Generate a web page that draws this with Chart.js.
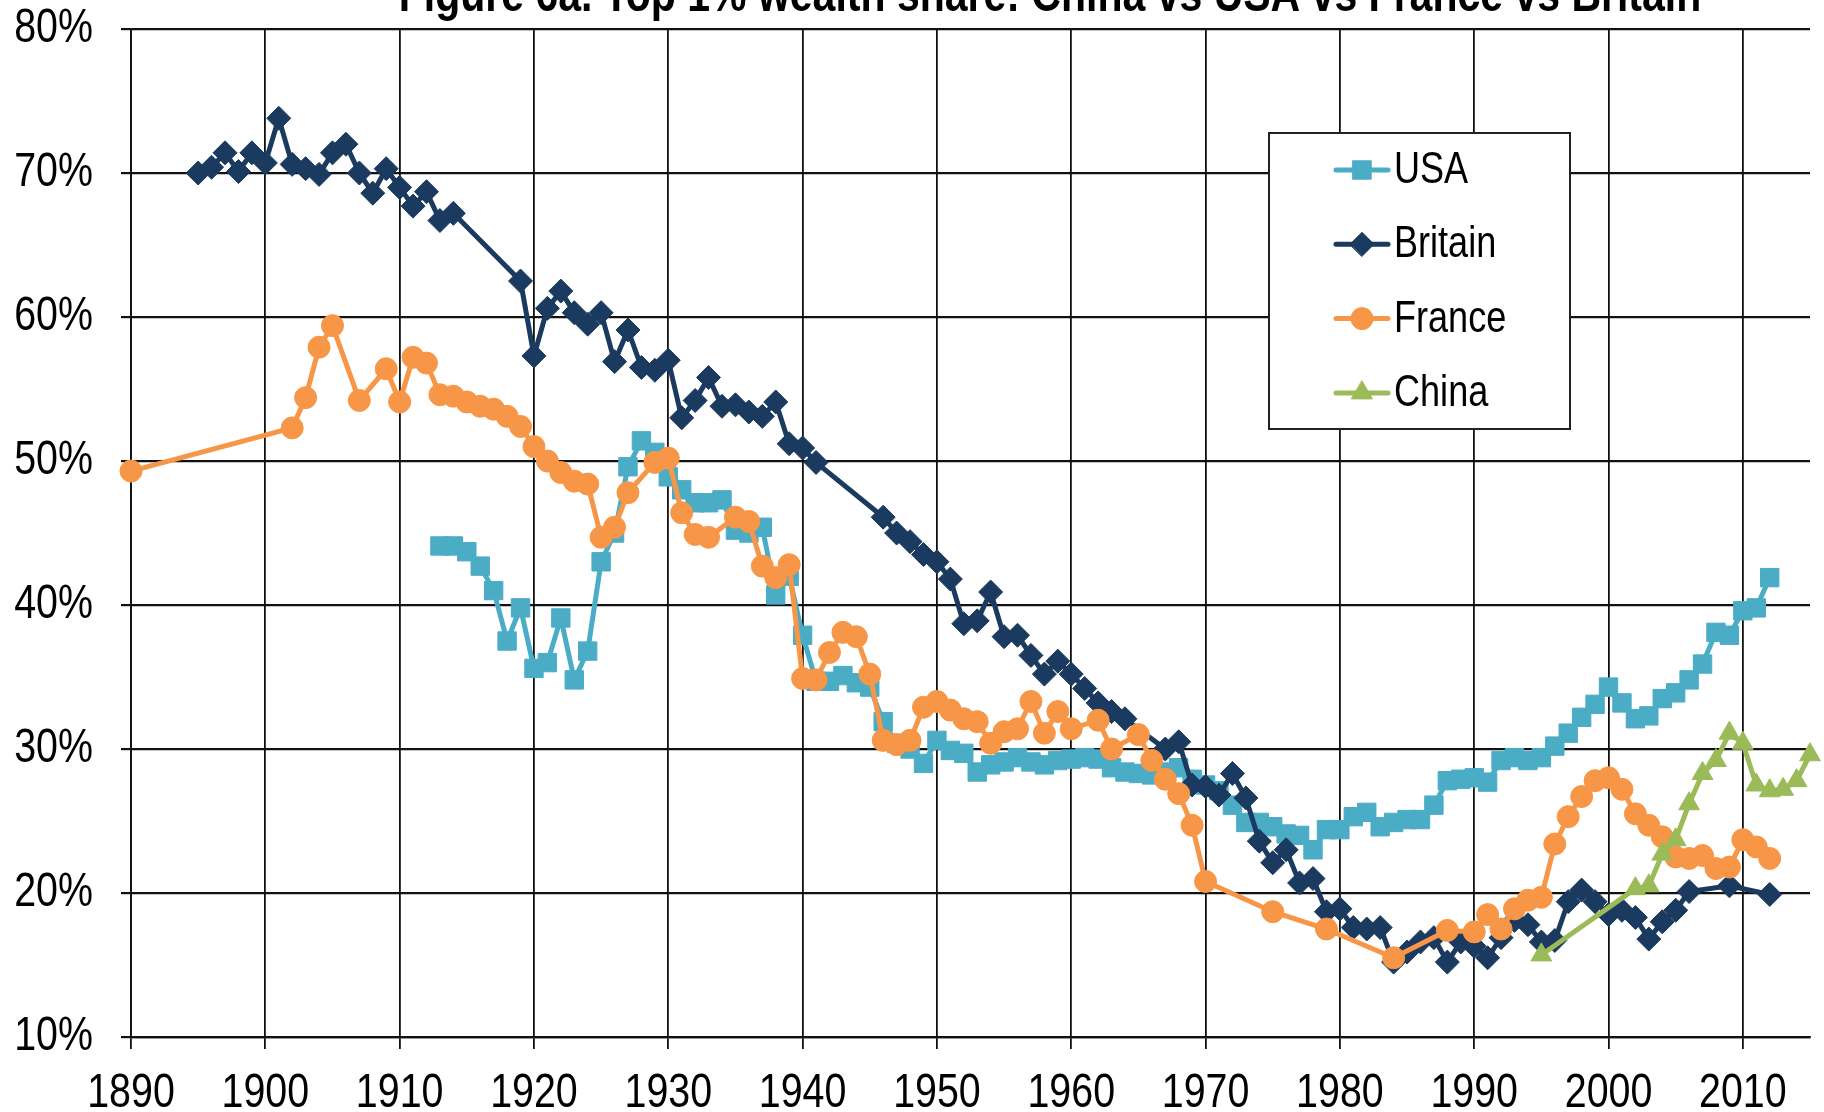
<!DOCTYPE html>
<html>
<head>
<meta charset="utf-8">
<title>Top 1% wealth share</title>
<script src="https://cdn.jsdelivr.net/npm/chart.js@4"></script>
<style>
  html, body { margin: 0; padding: 0; background: #fff; }
  canvas { display: block; }
</style>
</head>
<body>
<canvas id="chart" width="1824" height="1112"></canvas>
<script>
// data (share of total wealth, %)
const titleText = "Figure 6a. Top 1% wealth share: China vs USA vs France vs Britain";
const seriesNames = ["USA", "Britain", "France", "China"];
const yTicks = [10, 20, 30, 40, 50, 60, 70, 80];

const usaYears = [1913, 1914, 1915, 1916, 1917, 1918, 1919, 1920, 1921, 1922, 1923, 1924, 1925, 1926, 1927, 1928, 1929, 1930,
  1931, 1932, 1933, 1934, 1935, 1936, 1937, 1938, 1939, 1940, 1941, 1942, 1943, 1944, 1945, 1946, 1947, 1948, 1949, 1950,
  1951, 1952, 1953, 1954, 1955, 1956, 1957, 1958, 1959, 1960, 1961, 1962, 1963, 1964, 1965, 1966, 1967, 1968, 1969, 1970,
  1971, 1972, 1973, 1974, 1975, 1976, 1977, 1978, 1979, 1980, 1981, 1982, 1983, 1984, 1985, 1986, 1987, 1988, 1989, 1990,
  1991, 1992, 1993, 1994, 1995, 1996, 1997, 1998, 1999, 2000, 2001, 2002, 2003, 2004, 2005, 2006, 2007, 2008, 2009, 2010,
  2011, 2012];
const usaShare = [44.1, 44.1, 43.7, 42.7, 41.0, 37.5, 39.8, 35.6, 36.0, 39.1, 34.8, 36.8, 43.0, 45.0, 49.6, 51.4, 50.6, 48.9,
  48.0, 47.1, 47.1, 47.3, 45.2, 45.0, 45.4, 40.7, 42.0, 37.9, 34.7, 34.7, 35.1, 34.6, 34.3, 31.9, 30.4, 30.0, 29.0, 30.6,
  29.9, 29.7, 28.4, 28.9, 29.1, 29.4, 29.1, 28.9, 29.2, 29.3, 29.4, 29.3, 28.7, 28.4, 28.3, 28.2, 28.4, 28.7, 27.9, 27.5,
  27.1, 26.1, 24.9, 24.9, 24.6, 24.1, 24.0, 23.0, 24.4, 24.4, 25.3, 25.6, 24.6, 24.9, 25.1, 25.1, 26.1, 27.8, 27.9, 28.0,
  27.7, 29.2, 29.4, 29.2, 29.4, 30.2, 31.1, 32.2, 33.1, 34.3, 33.2, 32.1, 32.3, 33.5, 33.9, 34.8, 35.9, 38.1, 37.9, 39.6,
  39.8, 41.9];

const britainYears = [1895, 1896, 1897, 1898, 1899, 1900, 1901, 1902, 1903, 1904, 1905, 1906, 1907, 1908, 1909, 1910, 1911,
  1912, 1913, 1914, 1919, 1920, 1921, 1922, 1923, 1924, 1925, 1926, 1927, 1928, 1929, 1930, 1931, 1932, 1933, 1934, 1935,
  1936, 1937, 1938, 1939, 1940, 1941, 1946, 1947, 1948, 1949, 1950, 1951, 1952, 1953, 1954, 1955, 1956, 1957, 1958, 1959,
  1960, 1961, 1962, 1963, 1964, 1967, 1968, 1969, 1970, 1971, 1972, 1973, 1974, 1975, 1976, 1977, 1978, 1979, 1980, 1981,
  1982, 1983, 1984, 1985, 1986, 1987, 1988, 1989, 1990, 1991, 1992, 1993, 1994, 1995, 1996, 1997, 1998, 1999, 2000, 2001,
  2002, 2003, 2004, 2005, 2006, 2009, 2012];
const britainShare = [70.0, 70.4, 71.4, 70.1, 71.4, 70.7, 73.8, 70.6, 70.3, 69.9, 71.4, 72.0, 70.0, 68.6, 70.3, 69.0, 67.7,
  68.7, 66.7, 67.2, 62.5, 57.3, 60.6, 61.8, 60.3, 59.5, 60.3, 56.9, 59.1, 56.5, 56.3, 57.0, 53.0, 54.2, 55.8, 53.8, 53.9,
  53.4, 53.1, 54.1, 51.2, 50.9, 49.9, 46.1, 45.0, 44.4, 43.5, 43.0, 41.8, 38.7, 38.9, 40.9, 37.8, 37.9, 36.5, 35.2, 36.1,
  35.2, 34.2, 33.2, 32.6, 32.1, 30.0, 30.5, 27.5, 27.4, 26.8, 28.3, 26.6, 23.6, 22.1, 23.0, 20.7, 21.0, 18.7, 18.9, 17.6,
  17.5, 17.6, 15.2, 15.9, 16.6, 16.9, 15.2, 16.6, 16.3, 15.5, 16.9, 18.1, 17.8, 16.6, 16.7, 19.4, 20.2, 19.4, 18.5, 18.8,
  18.3, 16.8, 18.0, 18.8, 20.1, 20.5, 19.9];

const franceYears = [1890, 1902, 1903, 1904, 1905, 1907, 1909, 1910, 1911, 1912, 1913, 1914, 1915, 1916, 1917, 1918, 1919,
  1920, 1921, 1922, 1923, 1924, 1925, 1926, 1927, 1929, 1930, 1931, 1932, 1933, 1935, 1936, 1937, 1938, 1939, 1940, 1941,
  1942, 1943, 1944, 1945, 1946, 1947, 1948, 1949, 1950, 1951, 1952, 1953, 1954, 1955, 1956, 1957, 1958, 1959, 1960, 1962,
  1963, 1965, 1966, 1967, 1968, 1969, 1970, 1975, 1979, 1984, 1988, 1990, 1991, 1992, 1993, 1994, 1995, 1996, 1997, 1998,
  1999, 2000, 2001, 2002, 2003, 2004, 2005, 2006, 2007, 2008, 2009, 2010, 2011, 2012];
const franceShare = [49.3, 52.3, 54.4, 57.9, 59.4, 54.2, 56.4, 54.1, 57.2, 56.8, 54.6, 54.5, 54.1, 53.8, 53.6, 53.1, 52.4,
  51.0, 50.0, 49.2, 48.6, 48.4, 44.7, 45.4, 47.8, 49.9, 50.2, 46.4, 44.9, 44.7, 46.1, 45.8, 42.7, 41.9, 42.8, 34.9, 34.8,
  36.7, 38.1, 37.8, 35.2, 30.6, 30.3, 30.6, 32.9, 33.3, 32.7, 32.1, 31.9, 30.4, 31.2, 31.4, 33.3, 31.1, 32.6, 31.4, 32.0,
  30.0, 31.0, 29.2, 27.9, 26.9, 24.7, 20.8, 18.7, 17.5, 15.5, 17.4, 17.3, 18.5, 17.5, 18.9, 19.5, 19.7, 23.4, 25.3, 26.7,
  27.8, 28.0, 27.2, 25.5, 24.7, 23.9, 22.5, 22.4, 22.6, 21.7, 21.8, 23.7, 23.2, 22.4];

const chinaYears = [1995, 2002, 2003, 2004, 2005, 2006, 2007, 2008, 2009, 2010, 2011, 2012, 2013, 2014, 2015];
const chinaShare = [15.7, 20.3, 20.5, 22.7, 23.7, 26.2, 28.3, 29.2, 31.1, 30.4, 27.5, 27.1, 27.2, 27.8, 29.6];

function toPoints(years, values) {
  return years.map((yr, i) => ({ x: yr, y: values[i] }));
}

const FONT = '"Liberation Sans", Arial, sans-serif';
// the original uses a narrow Arial; no narrow face is installed, so squeeze text horizontally
const NARROW = 0.82;

function series(label, years, values, color, pointStyle, radius, order) {
  return {
    label: label,
    data: toPoints(years, values),
    borderColor: color,
    backgroundColor: color,
    pointBackgroundColor: color,
    pointBorderColor: color,
    pointBorderWidth: 1,
    borderWidth: 5,
    pointStyle: pointStyle,
    pointRadius: radius,
    tension: 0,
    clip: false,
    order: order,
  };
}

// title sits half cut off at the top edge, as in the original
const titlePlugin = {
  id: "cutTitle",
  afterDraw(chart) {
    const ctx = chart.ctx;
    ctx.save();
    ctx.fillStyle = "#000";
    ctx.font = "bold 50px " + FONT;
    ctx.textAlign = "center";
    ctx.textBaseline = "alphabetic";
    ctx.fillText(titleText, 1050, 11);
    ctx.restore();
  },
};

// boxed legend with a short line + marker for each series
const boxLegend = {
  id: "boxLegend",
  afterDraw(chart) {
    const ctx = chart.ctx;
    const left = 1269, top = 133, w = 301, h = 296;
    ctx.save();
    ctx.fillStyle = "#fff";
    ctx.fillRect(left, top, w, h);
    ctx.strokeStyle = "#222";
    ctx.lineWidth = 2;
    ctx.strokeRect(left, top, w, h);

    chart.data.datasets.forEach((ds, i) => {
      const y = top + 37 + i * 74.3;
      ctx.strokeStyle = ds.borderColor;
      ctx.lineWidth = 5;
      ctx.lineCap = "round";
      ctx.beginPath();
      ctx.moveTo(1336, y);
      ctx.lineTo(1388, y);
      ctx.stroke();
      ctx.fillStyle = ds.pointBackgroundColor;
      ctx.strokeStyle = ds.pointBorderColor;
      ctx.lineWidth = 1;
      Chart.helpers.drawPoint(ctx, { pointStyle: ds.pointStyle, radius: ds.pointRadius, rotation: 0, borderWidth: 1 }, 1362, y);

      ctx.fillStyle = "#000";
      ctx.font = "44px " + FONT;
      ctx.textAlign = "left";
      ctx.textBaseline = "middle";
      ctx.fillText(ds.label, 1394, y + 1);
    });
    ctx.restore();
  },
};

const ctx = document.getElementById("chart").getContext("2d");

// every text draw goes through here so it comes out condensed like Arial Narrow
const baseFillText = ctx.fillText;
ctx.fillText = function (text, x, y, maxWidth) {
  this.save();
  this.translate(x, y);
  this.scale(NARROW, 1);
  if (maxWidth === undefined || maxWidth === null) baseFillText.call(this, text, 0, 0);
  else baseFillText.call(this, text, 0, 0, maxWidth / NARROW);
  this.restore();
};

new Chart(ctx, {
  type: "line",
  data: {
    datasets: [
      series(seriesNames[0], usaYears, usaShare, "#4BACC6", "rect", 13, 4),
      series(seriesNames[1], britainYears, britainShare, "#1B3A5F", "rectRot", 12, 3),
      series(seriesNames[2], franceYears, franceShare, "#F79646", "circle", 11, 2),
      series(seriesNames[3], chinaYears, chinaShare, "#9BBB59", "triangle", 12, 1),
    ],
  },
  options: {
    responsive: false,
    animation: false,
    events: [],
    layout: { padding: { top: 29, right: 8, left: 0, bottom: 0 } },
    scales: {
      x: {
        type: "linear",
        min: 1890,
        max: 2015,
        afterFit(scale) {
          scale.height = 75;
          scale.paddingLeft = 0;
          scale.paddingRight = 0;
        },
        ticks: {
          stepSize: 10,
          includeBounds: false,
          maxRotation: 0,
          autoSkip: false,
          color: "#000",
          padding: 16,
          font: { family: FONT, size: 48 },
          callback: (v) => String(v),
        },
        grid: { color: "#111", lineWidth: 1.8, tickLength: 12 },
        border: { color: "#111", width: 2.2 },
      },
      y: {
        min: 10,
        max: 80,
        afterFit(scale) {
          scale.width = 131;
          scale.paddingTop = 0;
          scale.paddingBottom = 0;
        },
        afterBuildTicks(scale) { scale.ticks = yTicks.map((v) => ({ value: v })); },
        ticks: {
          color: "#000",
          padding: 28,
          font: { family: FONT, size: 48 },
          callback: (v) => v + "%",
        },
        grid: { color: "#111", lineWidth: 2.2, tickLength: 10 },
        border: { color: "#111", width: 1.8 },
      },
    },
    plugins: {
      legend: { display: false },
      tooltip: { enabled: false },
    },
  },
  plugins: [titlePlugin, boxLegend],
});
</script>
</body>
</html>
